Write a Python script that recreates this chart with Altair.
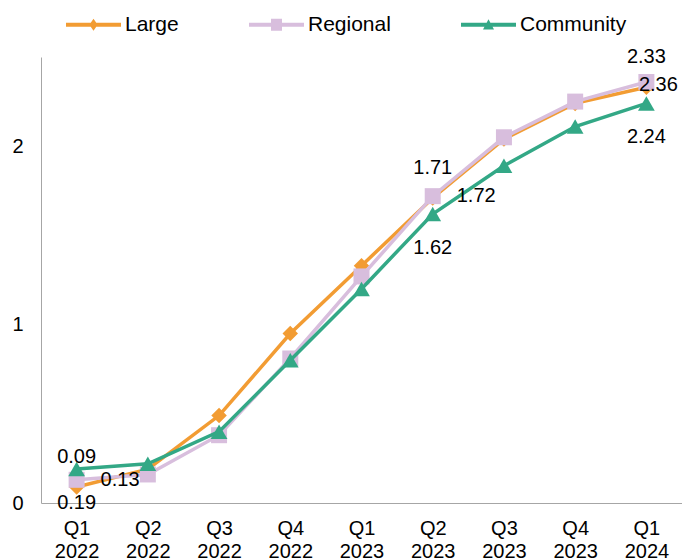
import altair as alt
import pandas as pd

# Quarterly values per institution size
quarters = ["Q1 2022", "Q2 2022", "Q3 2022", "Q4 2022", "Q1 2023",
            "Q2 2023", "Q3 2023", "Q4 2023", "Q1 2024"]
series = ["Large", "Regional", "Community"]
large = [0.09, 0.19, 0.49, 0.95, 1.33, 1.71, 2.04, 2.24, 2.33]
regional = [0.13, 0.16, 0.38, 0.81, 1.27, 1.72, 2.05, 2.25, 2.36]
community = [0.19, 0.22, 0.40, 0.80, 1.20, 1.62, 1.89, 2.11, 2.24]
labelled_quarters = ["Q1 2022", "Q2 2023", "Q1 2024"]

colors = ["#F29C33", "#D8BEDD", "#33A886"]
marker_shapes = ["diamond", "square", "triangle-up"]
marker_sizes = [240, 256, 280]
# legend glyphs: a short line with the series marker in the middle
legend_glyphs = [
    "M-1,-0.075H1V0.075H-1Z M0,-0.22L0.15,0L0,0.22L-0.15,0Z",
    "M-1,-0.075H1V0.075H-1Z M-0.2,-0.22H0.2V0.22H-0.2Z",
    "M-1,-0.075H1V0.075H-1Z M0,-0.2L0.2,0.17L-0.2,0.17Z",
]

values = {"Large": large, "Regional": regional, "Community": community}
df = pd.DataFrame(
    [{"quarter": q, "series": s, "value": v}
     for s in series for q, v in zip(quarters, values[s])]
)

FONT = "Liberation Sans"
AXIS_GRAY = "#A6A6A6"

x_enc = alt.X(
    "quarter:O", sort=quarters, scale=alt.Scale(padding=0.5),
    axis=alt.Axis(labelAngle=0, labelExpr="split(datum.label, ' ')",
                  ticks=False, domainColor=AXIS_GRAY, labelFontSize=20,
                  labelLineHeight=23, labelPadding=15, labelColor="black",
                  title=None),
)
y_enc = alt.Y(
    "value:Q", scale=alt.Scale(domain=[0, 2.5], nice=False),
    axis=alt.Axis(values=[0, 1, 2], grid=False, ticks=False,
                  domainColor=AXIS_GRAY, labelFontSize=20, labelPadding=18,
                  labelColor="black", title=None),
)

base = alt.Chart(df).encode(x=x_enc, y=y_enc)

layers = []
for name, col, shp, sz in zip(series, colors, marker_shapes, marker_sizes):
    sub = base.transform_filter(alt.datum.series == name)
    layers.append(sub.mark_line(color=col, strokeWidth=3.5))
    layers.append(sub.mark_point(shape=shp, color=col, filled=True,
                                 size=sz, opacity=1))

# value labels: Large above, Regional to the right, Community below
lab = base.transform_filter(
    alt.FieldOneOfPredicate(field="quarter", oneOf=labelled_quarters))
text_style = dict(fontSize=20, color="black", baseline="middle")
layers.append(
    lab.transform_filter(alt.datum.series == "Large")
    .mark_text(align="center", dy=-30, **text_style)
    .encode(text=alt.Text("value:Q", format=".2f")))
layers.append(
    lab.transform_filter((alt.datum.series == "Regional") & (alt.datum.quarter != quarters[-1]))
    .mark_text(align="left", dx=24, **text_style)
    .encode(text=alt.Text("value:Q", format=".2f")))
layers.append(
    lab.transform_filter((alt.datum.series == "Regional") & (alt.datum.quarter == quarters[-1]))
    .mark_text(align="center", dx=12, dy=3, **text_style)
    .encode(text=alt.Text("value:Q", format=".2f")))
layers.append(
    lab.transform_filter(alt.datum.series == "Community")
    .mark_text(align="center", dy=34, **text_style)
    .encode(text=alt.Text("value:Q", format=".2f")))

# legend-only layer (no rows drawn)
legend = alt.Legend(
    orient="none", legendX=25, legendY=-60, direction="horizontal",
    title=None, symbolSize=3025, symbolStrokeWidth=0, labelFontSize=21,
    labelFont=FONT, labelColor="black", labelOffset=4, columnPadding=70,
    padding=0, labelLimit=300,
)
legend_layer = base.transform_filter(alt.datum.value < 0).mark_point(
    filled=True, opacity=1
).encode(
    color=alt.Color("series:N", scale=alt.Scale(domain=series, range=colors),
                    legend=legend),
    shape=alt.Shape("series:N", scale=alt.Scale(domain=series, range=legend_glyphs),
                    legend=legend),
)
layers.append(legend_layer)

chart = alt.layer(*layers).properties(
    width=641, height=446,
    autosize=alt.AutoSizeParams(type="none"),
    padding={"left": 41, "top": 57, "right": 0, "bottom": 57},
).configure(font=FONT).configure_view(stroke=None)

chart.save("out.html", embed_options={"renderer": "svg", "actions": False})
